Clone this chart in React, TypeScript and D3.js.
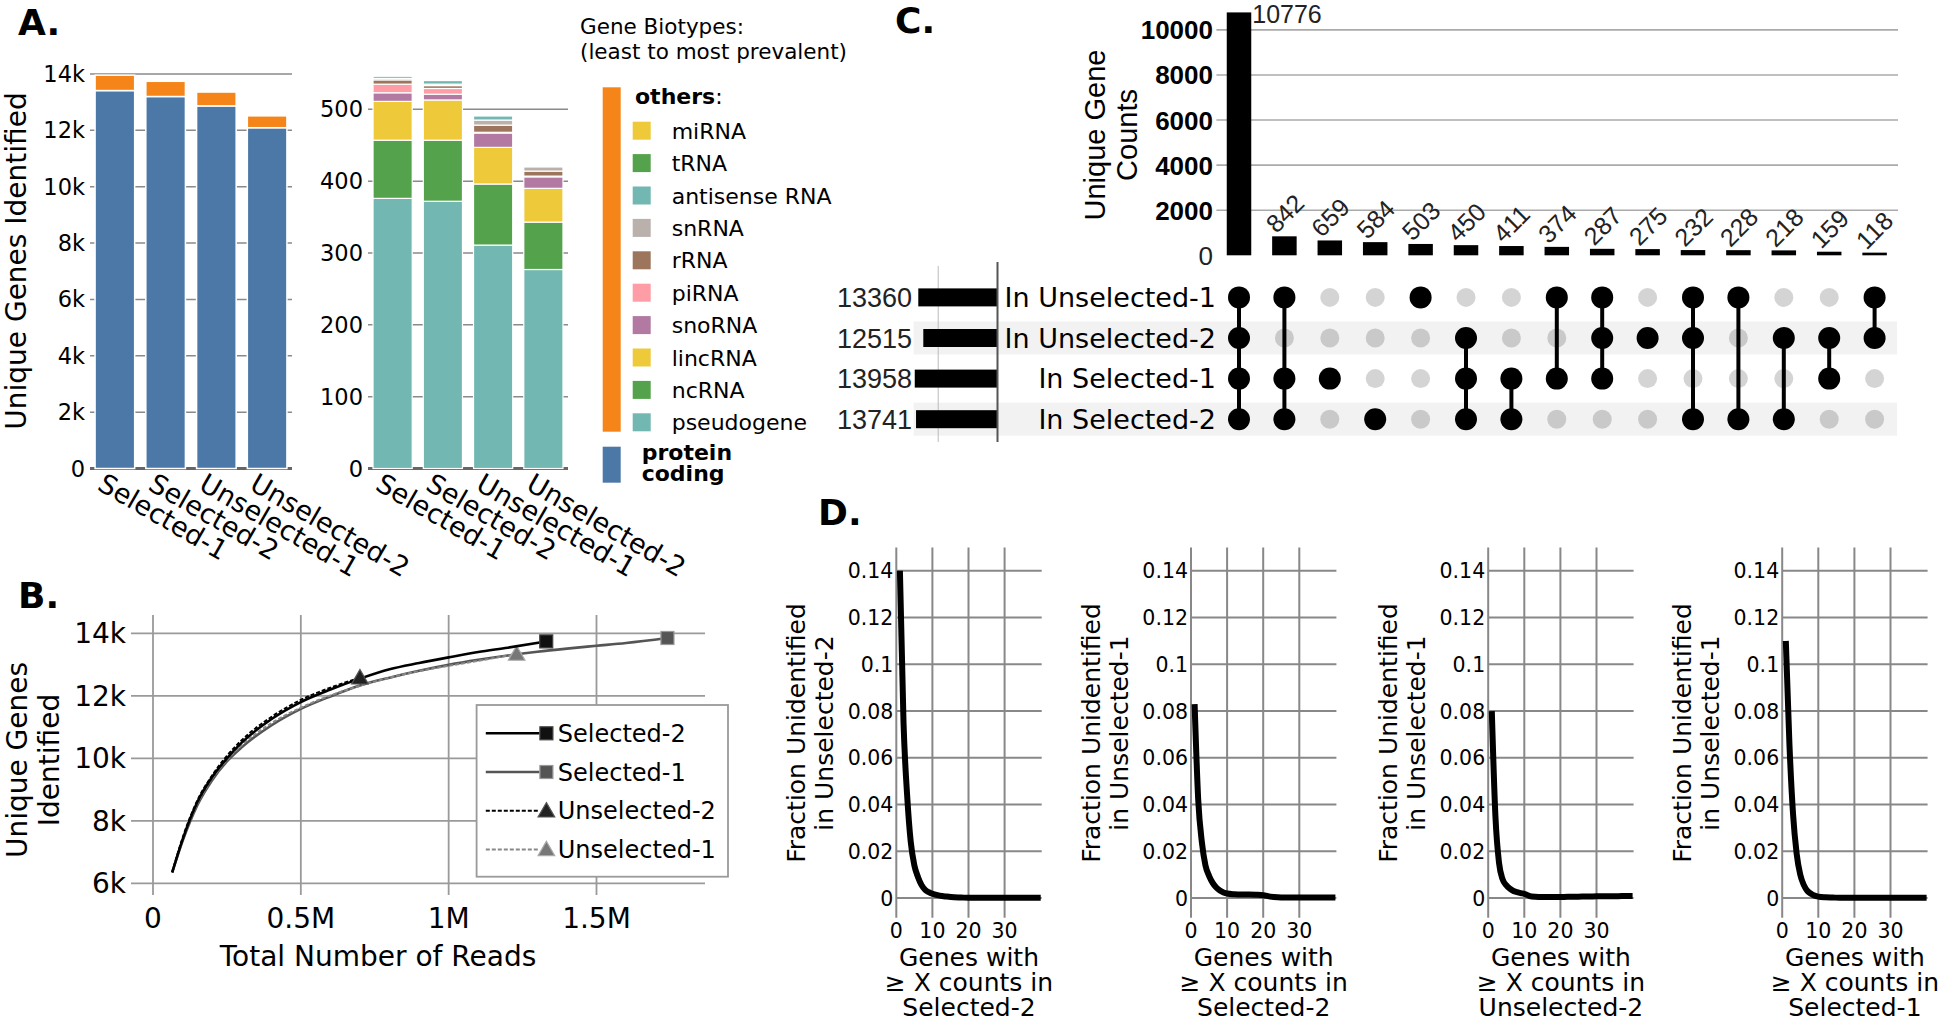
import React, { useEffect, useRef } from 'react';
import * as d3 from 'd3';

// ---- Panel A: gene biotypes per sample ----
const samples = ['Selected-1', 'Selected-2', 'Unselected-1', 'Unselected-2'];
const proteinCoding = [13412, 13201, 12868, 12094];
const biotypes = ['pseudogene', 'ncRNA', 'lincRNA', 'snoRNA', 'piRNA', 'rRNA', 'snRNA', 'antisense RNA', 'tRNA', 'miRNA'];
const pseudogene = [376, 372, 311, 277];
const ncRNA = [81, 85, 85, 66];
const lincRNA = [54, 56, 51, 47];
const snoRNA = [12, 8, 20, 16];
const piRNA = [12, 8, 1, 1];
const rRNA = [6, 4, 10, 7];
const snRNA = [2, 2, 7, 6];
const antisenseRNA = [3, 5, 6, 1];
const tRNA = [0, 0, 1, 0];
const miRNA = [0, 0, 0, 0];
const biotypeColors = ['#72B7B2', '#54A24B', '#EECA3B', '#B279A2', '#FF9DA6', '#9D755D', '#BAB0AC', '#72B7B2', '#54A24B', '#EECA3B'];
const leftTicks = [0, 2000, 4000, 6000, 8000, 10000, 12000, 14000];
const rightTicks = [0, 100, 200, 300, 400, 500];

// ---- Panel B: saturation curves (reads in millions) ----
const readsS2 = [0.065, 0.1, 0.15, 0.2, 0.25, 0.3, 0.4, 0.5, 0.6, 0.7, 0.8, 0.9, 1.0, 1.1, 1.2, 1.33];
const genesS2 = [6350, 7400, 8600, 9400, 10000, 10500, 11250, 11800, 12200, 12550, 12850, 13050, 13230, 13400, 13540, 13741];
const readsS1 = [0.065, 0.1, 0.15, 0.2, 0.25, 0.3, 0.4, 0.5, 0.6, 0.7, 0.8, 0.9, 1.0, 1.1, 1.2, 1.3, 1.4, 1.5, 1.6, 1.74];
const genesS1 = [6350, 7350, 8500, 9300, 9900, 10350, 11050, 11580, 11980, 12330, 12580, 12800, 12990, 13150, 13290, 13410, 13510, 13600, 13690, 13850];
const readsU2 = [0.065, 0.1, 0.15, 0.2, 0.25, 0.3, 0.4, 0.5, 0.6, 0.7];
const genesU2 = [6350, 7450, 8650, 9450, 10080, 10580, 11320, 11870, 12260, 12580];
const readsU1 = [0.065, 0.1, 0.15, 0.2, 0.25, 0.3, 0.4, 0.5, 0.6, 0.7, 0.8, 0.9, 1.0, 1.1, 1.23];
const genesU1 = [6350, 7400, 8550, 9350, 9950, 10420, 11120, 11620, 12010, 12320, 12580, 12790, 12960, 13120, 13340];
const readTicks = [0, 0.5, 1, 1.5];
const readTickLabels = ['0', '0.5M', '1M', '1.5M'];
const geneTicks = [6000, 8000, 10000, 12000, 14000];

// ---- Panel C: upset plot ----
const setNames = ['In Unselected-1', 'In Unselected-2', 'In Selected-1', 'In Selected-2'];
const setSizes = [13360, 12515, 13958, 13741];
const intersectionCounts = [10776, 842, 659, 584, 503, 450, 411, 374, 287, 275, 232, 228, 218, 159, 118];
const intersectionMembers = [[0, 1, 2, 3], [0, 2, 3], [2], [3], [0], [1, 2, 3], [2, 3], [0, 2], [0, 1, 2], [1], [0, 1, 3], [0, 3], [1, 3], [1, 2], [0, 1]];
const countTicks = [0, 2000, 4000, 6000, 8000, 10000];

// ---- Panel D: fraction unidentified ----
const fracX = [1, 2, 3, 4, 5, 6, 7, 8, 9, 10, 12, 14, 16, 18, 20, 22, 24, 26, 28, 30, 32, 34, 36, 38, 40];
const fracD1 = [0.14, 0.075, 0.044, 0.024, 0.014, 0.009, 0.0055, 0.0035, 0.0025, 0.0018, 0.001, 0.0006, 0.0003, 0.0002, 0.0001, 0.0001, 0.0001, 0.0001, 0.0001, 0.0001, 0.0001, 0.0001, 0.0001, 0.0001, 0.0001];
const fracD2 = [0.083, 0.042, 0.024, 0.014, 0.0095, 0.0065, 0.0045, 0.0032, 0.0024, 0.0019, 0.0016, 0.0015, 0.0015, 0.0014, 0.0012, 0.0006, 0.0003, 0.0002, 0.0002, 0.0002, 0.0002, 0.0002, 0.0002, 0.0002, 0.0002];
const fracD3 = [0.08, 0.035, 0.015, 0.008, 0.0055, 0.004, 0.003, 0.0025, 0.0021, 0.0018, 0.0006, 0.0004, 0.0004, 0.0004, 0.0004, 0.0005, 0.0005, 0.0006, 0.0006, 0.0007, 0.0007, 0.0008, 0.0008, 0.0009, 0.0009];
const fracD4 = [0.11, 0.066, 0.036, 0.019, 0.01, 0.0055, 0.003, 0.0018, 0.001, 0.0006, 0.0003, 0.0002, 0.0001, 0.0001, 0.0001, 0.0001, 0.0001, 0.0001, 0.0001, 0.0001, 0.0001, 0.0001, 0.0001, 0.0001, 0.0001];
const fracTicks = [0, 0.02, 0.04, 0.06, 0.08, 0.1, 0.12, 0.14];
const fracTickLabels = ['0', '0.02', '0.04', '0.06', '0.08', '0.1', '0.12', '0.14'];
const countXTicks = [0, 10, 20, 30];
const dYLabels = ['in Unselected-2', 'in Unselected-1', 'in Unselected-1', 'in Unselected-1'];
const dXLabels = ['Selected-2', 'Selected-2', 'Unselected-2', 'Selected-1'];

const SANS = 'DejaVu Sans';
const ARIAL = 'Liberation Sans';

export default function App() {
  const svgRef = useRef<SVGSVGElement>(null);

  useEffect(() => {
    if (!svgRef.current) return;
    const svg = d3.select(svgRef.current);
    svg.selectAll('*').remove();

    const label = (g: any, x: number, y: number, str: string, size: number, opts: any = {}) =>
      g.append('text')
        .attr('x', x)
        .attr('y', y)
        .attr('font-family', opts.family || SANS)
        .attr('font-size', size)
        .attr('font-weight', opts.weight || 'normal')
        .attr('text-anchor', opts.anchor || 'start')
        .attr('fill', opts.fill || '#000')
        .attr('transform', opts.transform || null)
        .text(str);

    // panel letters
    label(svg, 18, 35, 'A.', 36, { weight: 'bold' });
    label(svg, 18, 608, 'B.', 36, { weight: 'bold' });
    label(svg, 895, 33, 'C.', 36, { weight: 'bold' });
    label(svg, 818, 525, 'D.', 36, { weight: 'bold' });

    // ===== Panel A =====
    const gA = svg.append('g');
    const others = samples.map((_, i) =>
      pseudogene[i] + ncRNA[i] + lincRNA[i] + snoRNA[i] + piRNA[i] + rRNA[i] + snRNA[i] + antisenseRNA[i] + tRNA[i] + miRNA[i]);

    const xL = d3.scaleBand().domain(samples).range([90, 292]).paddingInner(0.22).paddingOuter(0.1);
    const yL = d3.scaleLinear().domain([0, 14000]).range([468.5, 74]);

    leftTicks.forEach(t => {
      gA.append('line').attr('x1', 90).attr('x2', 292).attr('y1', yL(t)).attr('y2', yL(t))
        .attr('stroke', t === 0 ? '#666' : '#8a8a8a').attr('stroke-width', t === 0 ? 3 : 1.5);
      label(gA, 85, yL(t) + 8, t === 0 ? '0' : `${t / 1000}k`, 22.5, { anchor: 'end' });
    });

    samples.forEach((s, i) => {
      gA.append('rect').attr('x', xL(s)!).attr('width', xL.bandwidth())
        .attr('y', yL(proteinCoding[i])).attr('height', yL(0) - yL(proteinCoding[i]))
        .attr('fill', '#4C78A8').attr('stroke', '#fff').attr('stroke-width', 1.5);
      gA.append('rect').attr('x', xL(s)!).attr('width', xL.bandwidth())
        .attr('y', yL(proteinCoding[i] + others[i])).attr('height', yL(proteinCoding[i]) - yL(proteinCoding[i] + others[i]))
        .attr('fill', '#F58518').attr('stroke', '#fff').attr('stroke-width', 1.5);
      label(gA, xL(s)! + 1, 489, s, 27, { transform: `rotate(30, ${xL(s)! + 1}, 489)` });
    });

    label(gA, 0, 0, 'Unique Genes Identified', 28, { anchor: 'middle', transform: 'translate(26,261) rotate(-90)' });

    // right: biotype breakdown
    const xR = d3.scaleBand().domain(samples).range([368, 568]).paddingInner(0.22).paddingOuter(0.1);
    const yR = d3.scaleLinear().domain([0, 500]).range([468.5, 109.3]);
    const counts = [pseudogene, ncRNA, lincRNA, snoRNA, piRNA, rRNA, snRNA, antisenseRNA, tRNA, miRNA];
    const rows = samples.map((s, i) => {
      const r: any = { sample: s };
      biotypes.forEach((b, k) => { r[b] = counts[k][i]; });
      return r;
    });
    const stacked = d3.stack<any>().keys(biotypes)(rows);

    rightTicks.forEach(t => {
      gA.append('line').attr('x1', 368).attr('x2', 568).attr('y1', yR(t)).attr('y2', yR(t))
        .attr('stroke', t === 0 ? '#666' : '#8a8a8a').attr('stroke-width', t === 0 ? 3 : 1.5);
      label(gA, 363, yR(t) + 8, String(t), 22.5, { anchor: 'end' });
    });

    stacked.forEach((layer, k) => {
      gA.append('g').selectAll('rect').data(layer).enter().append('rect')
        .attr('x', d => xR(d.data.sample)!)
        .attr('width', xR.bandwidth())
        .attr('y', d => yR(d[1]))
        .attr('height', d => Math.max(0, yR(d[0]) - yR(d[1])))
        .attr('fill', biotypeColors[k])
        .attr('stroke', '#fff').attr('stroke-width', 1.2);
    });

    samples.forEach(s => {
      label(gA, xR(s)! + 1, 489, s, 27, { transform: `rotate(30, ${xR(s)! + 1}, 489)` });
    });

    // legend
    label(gA, 580, 33.5, 'Gene Biotypes:', 21.5);
    label(gA, 580, 58.5, '(least to most prevalent)', 21.5);
    gA.append('rect').attr('x', 602.7).attr('y', 87.3).attr('width', 18).attr('height', 344.4).attr('fill', '#F58518');
    gA.append('rect').attr('x', 602.7).attr('y', 446.7).attr('width', 18).attr('height', 36).attr('fill', '#4C78A8');
    const othersT = label(gA, 635, 104.3, '', 22, { weight: 'bold' });
    othersT.append('tspan').text('others');
    othersT.append('tspan').attr('font-weight', 'normal').text(':');
    const legendOrder = biotypes.map((b, k) => ({ b, k })).reverse();
    legendOrder.forEach(({ b, k }, i) => {
      const cy = 130.7 + i * 32.4;
      gA.append('rect').attr('x', 632.7).attr('y', cy - 9).attr('width', 18).attr('height', 18).attr('fill', biotypeColors[k]);
      label(gA, 671.7, cy + 8, b, 22);
    });
    label(gA, 641.7, 459.7, 'protein', 22, { weight: 'bold' });
    label(gA, 641.7, 481, 'coding', 22, { weight: 'bold' });

    // ===== Panel B =====
    const gB = svg.append('g');
    const xB = d3.scaleLinear().domain([0, 1.867]).range([153, 705]);
    const yB = d3.scaleLinear().domain([6000, 14000]).range([883.3, 633.3]);

    geneTicks.forEach(t => {
      gB.append('line').attr('x1', 131).attr('x2', 705).attr('y1', yB(t)).attr('y2', yB(t))
        .attr('stroke', '#9a9a9a').attr('stroke-width', 1.8);
      label(gB, 126, yB(t) + 10, `${t / 1000}k`, 28, { anchor: 'end' });
    });
    readTicks.forEach((t, i) => {
      gB.append('line').attr('x1', xB(t)).attr('x2', xB(t)).attr('y1', 615).attr('y2', 895)
        .attr('stroke', '#9a9a9a').attr('stroke-width', 1.8);
      label(gB, xB(t), 928, readTickLabels[i], 28, { anchor: 'middle' });
    });
    label(gB, 378, 966, 'Total Number of Reads', 28, { anchor: 'middle' });
    label(gB, 0, 0, 'Unique Genes', 28, { anchor: 'middle', transform: 'translate(27,760) rotate(-90)' });
    label(gB, 0, 0, 'Identified', 28, { anchor: 'middle', transform: 'translate(59,760) rotate(-90)' });

    const lineB = d3.line<number[]>().x(d => xB(d[0])).y(d => yB(d[1])).curve(d3.curveMonotoneX);
    const series = [
      { name: 'Selected-2', reads: readsS2, genes: genesS2, color: '#000', fill: '#111', edge: '#444', dash: null, marker: 'square', width: 2.6 },
      { name: 'Selected-1', reads: readsS1, genes: genesS1, color: '#555', fill: '#555', edge: '#999', dash: null, marker: 'square', width: 2.6 },
      { name: 'Unselected-2', reads: readsU2, genes: genesU2, color: '#000', fill: '#222', edge: '#555', dash: '4,2', marker: 'triangle', width: 2 },
      { name: 'Unselected-1', reads: readsU1, genes: genesU1, color: '#888', fill: '#777', edge: '#aaa', dash: '4,2', marker: 'triangle', width: 2 },
    ];
    const drawMarker = (g: any, kind: string, x: number, y: number, fill: string, edge: string) => {
      if (kind === 'square') {
        g.append('rect').attr('x', x - 6.5).attr('y', y - 6.5).attr('width', 13).attr('height', 13)
          .attr('fill', fill).attr('stroke', edge).attr('stroke-width', 1.2);
      } else {
        g.append('path').attr('d', d3.symbol(d3.symbolTriangle, 120)())
          .attr('transform', `translate(${x},${y + 1.5})`)
          .attr('fill', fill).attr('stroke', edge).attr('stroke-width', 1.2);
      }
    };
    [1, 3, 0, 2].forEach(si => {
      const s = series[si];
      const pts = s.reads.map((r, i) => [r, s.genes[i]]);
      gB.append('path').attr('d', lineB(pts)).attr('fill', 'none')
        .attr('stroke', s.color).attr('stroke-width', s.width)
        .attr('stroke-dasharray', s.dash);
      const last = pts[pts.length - 1];
      drawMarker(gB, s.marker, xB(last[0]), yB(last[1]), s.fill, s.edge);
    });

    gB.append('rect').attr('x', 476.6).attr('y', 705).attr('width', 251.4).attr('height', 171.7)
      .attr('fill', '#fff').attr('stroke', '#9a9a9a').attr('stroke-width', 1.8);
    series.forEach((s, i) => {
      const cy = 733.3 + i * 38.7;
      gB.append('line').attr('x1', 485.8).attr('x2', 539.5).attr('y1', cy).attr('y2', cy)
        .attr('stroke', s.color).attr('stroke-width', s.width).attr('stroke-dasharray', s.dash);
      drawMarker(gB, s.marker, 546.4, cy, s.fill, s.edge);
      label(gB, 557.8, cy + 8.5, s.name, 24);
    });

    // ===== Panel C =====
    const gC = svg.append('g');
    const cols = intersectionCounts.map((_, i) => i);
    const xC = d3.scalePoint<number>().domain(cols).range([1216.3, 1897.3]).padding(0.5);
    const yC = d3.scaleLinear().domain([0, 10000]).range([255.3, 29.9]);
    const barW = 24.5;

    countTicks.forEach(t => {
      if (t > 0) {
        gC.append('line').attr('x1', 1216.4).attr('x2', 1898).attr('y1', yC(t)).attr('y2', yC(t))
          .attr('stroke', '#aaa').attr('stroke-width', 1.6);
      }
      label(gC, 1213, yC(t) + 9.5, String(t), 26, { anchor: 'end', family: ARIAL, weight: t === 0 ? 'normal' : 'bold', fill: t === 0 ? '#222' : '#000' });
    });
    gC.append('g').selectAll('rect').data(intersectionCounts).enter().append('rect')
      .attr('x', (_, i) => xC(i)! - barW / 2)
      .attr('width', barW)
      .attr('y', d => yC(d))
      .attr('height', d => yC(0) - yC(d))
      .attr('fill', '#000');
    intersectionCounts.forEach((c, i) => {
      if (i === 0) {
        label(gC, xC(i)! + barW / 2 + 1, 23, String(c), 25, { family: ARIAL, fill: '#222' });
      } else {
        const ax = xC(i)! - 8;
        const ay = yC(c) - 2;
        label(gC, ax, ay, String(c), 25, { family: ARIAL, fill: '#222', transform: `rotate(-45, ${ax}, ${ay})` });
      }
    });
    label(gC, 0, 0, 'Unique Gene', 29, { family: ARIAL, anchor: 'middle', transform: 'translate(1105,135) rotate(-90)' });
    label(gC, 0, 0, 'Counts', 29, { family: ARIAL, anchor: 'middle', transform: 'translate(1137,135) rotate(-90)' });

    // matrix
    const yRow = d3.scalePoint<number>().domain([0, 1, 2, 3]).range([297.4, 419.2]);
    [1, 3].forEach(r => {
      gC.append('rect').attr('x', 913.6).attr('y', yRow(r)! - 16.5).attr('width', 983.4).attr('height', 33)
        .attr('fill', '#f2f2f2');
    });
    const xSet = d3.scaleLinear().domain([0, 14000]).range([997.5, 914.5]);
    gC.append('line').attr('x1', xSet(10000)).attr('x2', xSet(10000)).attr('y1', 266).attr('y2', 442)
      .attr('stroke', '#bbb').attr('stroke-width', 1);
    setNames.forEach((n, r) => {
      const cy = yRow(r)!;
      gC.append('rect').attr('x', xSet(setSizes[r])).attr('y', cy - 9).attr('width', xSet(0) - xSet(setSizes[r])).attr('height', 18)
        .attr('fill', '#000');
      label(gC, 912, cy + 9.5, String(setSizes[r]), 27, { anchor: 'end', family: ARIAL, fill: '#222' });
      label(gC, 1216, cy + 9.5, n, 27, { anchor: 'end' });
    });
    gC.append('line').attr('x1', 997.5).attr('x2', 997.5).attr('y1', 262).attr('y2', 442)
      .attr('stroke', '#555').attr('stroke-width', 2);

    cols.forEach(i => {
      const cx = xC(i)!;
      const mem = intersectionMembers[i];
      [0, 1, 2, 3].forEach(r => {
        if (!mem.includes(r)) {
          gC.append('circle').attr('cx', cx).attr('cy', yRow(r)!).attr('r', 9.5).attr('fill', '#000').attr('fill-opacity', 0.17);
        }
      });
      if (mem.length > 1) {
        gC.append('line').attr('x1', cx).attr('x2', cx)
          .attr('y1', yRow(d3.min(mem)!)!).attr('y2', yRow(d3.max(mem)!)!)
          .attr('stroke', '#000').attr('stroke-width', 4);
      }
      mem.forEach(r => {
        gC.append('circle').attr('cx', cx).attr('cy', yRow(r)!).attr('r', 11).attr('fill', '#000');
      });
    });

    // ===== Panel D =====
    const dLeft = [896.3, 1191, 1488.2, 1782.2];
    const dSeries = [fracD1, fracD2, fracD3, fracD4];
    const yD = d3.scaleLinear().domain([0, 0.15]).range([898, 547.5]);
    dLeft.forEach((x0, c) => {
      const g = svg.append('g');
      const xD = d3.scaleLinear().domain([0, 40]).range([x0, x0 + 144.4]);
      fracTicks.forEach((t, i) => {
        g.append('line').attr('x1', x0).attr('x2', x0 + 145.4).attr('y1', yD(t)).attr('y2', yD(t))
          .attr('stroke', '#888').attr('stroke-width', 2);
        label(g, x0 - 3, yD(t) + 7.5, fracTickLabels[i], 20.5, { anchor: 'end' });
      });
      countXTicks.forEach(t => {
        g.append('line').attr('x1', xD(t)).attr('x2', xD(t)).attr('y1', 547.5).attr('y2', 917.7)
          .attr('stroke', '#888').attr('stroke-width', 2);
        label(g, xD(t), 938, String(t), 20.5, { anchor: 'middle' });
      });
      const lineD = d3.line<number>().x((_, i) => xD(fracX[i])).y(d => yD(d)).curve(d3.curveMonotoneX);
      g.append('path').attr('d', lineD(dSeries[c])).attr('fill', 'none').attr('stroke', '#000').attr('stroke-width', 6);
      const cx = x0 + 72.7;
      label(g, cx, 966, 'Genes with', 25, { anchor: 'middle' });
      label(g, cx, 991, '\u2265 X counts in', 25, { anchor: 'middle' });
      label(g, cx, 1015.5, dXLabels[c], 25, { anchor: 'middle' });
      label(g, 0, 0, 'Fraction Unidentified', 25, { anchor: 'middle', transform: `translate(${x0 - 91},733) rotate(-90)` });
      label(g, 0, 0, dYLabels[c], 25, { anchor: 'middle', transform: `translate(${x0 - 63},733) rotate(-90)` });
    });
  }, []);

  return (
    <svg
      ref={svgRef}
      width={1951}
      height={1020}
      style={{ position: 'absolute', left: 0, top: 0, background: '#fff' }}
    />
  );
}
